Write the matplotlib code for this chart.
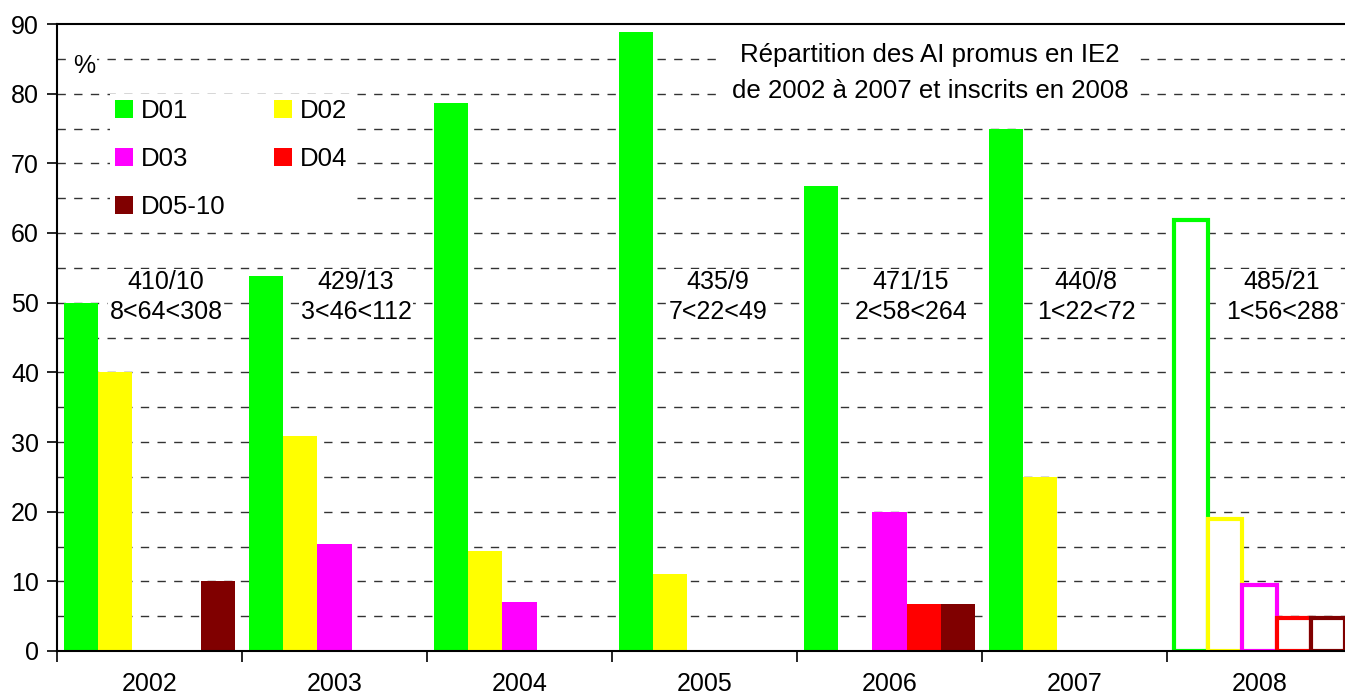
import matplotlib
matplotlib.use("Agg")
import matplotlib.pyplot as plt
from matplotlib.patches import Patch
import numpy as np

plt.rcParams['font.family'] = ['Liberation Sans', 'DejaVu Sans']

years = ['2002', '2003', '2004', '2005', '2006', '2007', '2008']
series_names = ['D01', 'D02', 'D03', 'D04', 'D05-10']
d01 = [50.0, 53.8, 78.6, 88.9, 66.7, 75.0, 61.9]
d02 = [40.0, 30.8, 14.3, 11.1, 0.0, 25.0, 19.0]
d03 = [0.0, 15.4, 7.1, 0.0, 20.0, 0.0, 9.5]
d04 = [0.0, 0.0, 0.0, 0.0, 6.7, 0.0, 4.8]
d05 = [10.0, 0.0, 0.0, 0.0, 6.7, 0.0, 4.8]
colors = ['#00FF00', '#FFFF00', '#FF00FF', '#FF0000', '#800000']
hollow_year = '2008'

ann_years = ['2002', '2003', '2005', '2006', '2007', '2008']
ann_line1 = ['410/10', '429/13', '435/9', '471/15', '440/8', '485/21']
ann_line2 = ['8<64<308', '3<46<112', '7<22<49', '2<58<264', '1<22<72', '1<56<288']
ann_dx = [0.089, 0.116, 0.073, 0.116, 0.062, 0.122]

title = "Répartition des AI promus en IE2\nde 2002 à 2007 et inscrits en 2008"

W, H = 1345, 695
fig = plt.figure(figsize=(W / 100, H / 100), dpi=100)
ax = fig.add_axes([57 / W, 1 - 651 / H, 1295 / W, 627 / H])

series = [d01, d02, d03, d04, d05]
x = np.arange(len(years))
bw = 0.185
for i, (vals, c) in enumerate(zip(series, colors)):
    pos = x + (i - 2) * bw
    for xi, yr, v in zip(pos, years, vals):
        if v <= 0:
            continue
        if yr == hollow_year:
            ax.bar(xi, v, width=bw, facecolor='white', edgecolor=c,
                   linewidth=3, zorder=3)
        else:
            ax.bar(xi, v, width=bw, color=c, linewidth=0, zorder=3)

ax.set_xlim(-0.5, len(years) - 0.5)
ax.set_ylim(0, 90)

# grid
for g in np.arange(5, 90, 5):
    ax.axhline(g, color='#333333', lw=1.0, ls=(0, (6, 6)), zorder=1)

ax.set_yticks(np.arange(0, 91, 10))
ax.tick_params(axis='y', which='major', length=7, width=1.2, pad=6,
               labelsize=18, direction='out')
ax.set_xticks(x)
ax.set_xticklabels(years)
ax.tick_params(axis='x', which='major', length=0, pad=15, labelsize=18)
ax.set_xticks(np.arange(-0.5, len(years), 1), minor=True)
ax.tick_params(axis='x', which='minor', length=8, width=1.2, direction='out')

for s in ['left', 'bottom', 'top']:
    ax.spines[s].set_linewidth(1.5)
    ax.spines[s].set_zorder(4)
ax.spines['right'].set_visible(False)

# annotations
for yr, l1, l2, dx in zip(ann_years, ann_line1, ann_line2, ann_dx):
    xi = years.index(yr) + dx
    ax.text(xi, 50.8, l1 + "\n" + l2, ha='center', va='center', fontsize=18,
            linespacing=1.3, zorder=2,
            bbox=dict(facecolor='white', edgecolor='none', pad=1))

# % label
ax.text(0.021, 0.933, '%', transform=ax.transAxes, fontsize=18, ha='center',
        va='center', zorder=2,
        bbox=dict(facecolor='white', edgecolor='none', pad=1))

# title box
ax.text(0.674, 0.922, title, transform=ax.transAxes, ha='center', va='center',
        fontsize=18.6, linespacing=1.6, zorder=2,
        bbox=dict(facecolor='white', edgecolor='none', pad=6))

# legend (row-wise order)
handles = [Patch(facecolor=c, edgecolor='none') for c in colors]
order = [0, 2, 4, 1, 3]
leg = ax.legend([handles[k] for k in order], [series_names[k] for k in order],
                ncol=2, loc='upper left', bbox_to_anchor=(0.041, 0.889),
                frameon=True, fontsize=18.5, handlelength=0.7, handleheight=0.7,
                handletextpad=0.3, labelspacing=0.93, columnspacing=1.9,
                borderaxespad=0, borderpad=0.2)
leg.get_frame().set_facecolor('white')
leg.get_frame().set_edgecolor('none')
leg.get_frame().set_alpha(1)
leg.get_frame().set_boxstyle('square', pad=0)
leg.set_zorder(2)

fig.savefig('out.png', dpi=100)
